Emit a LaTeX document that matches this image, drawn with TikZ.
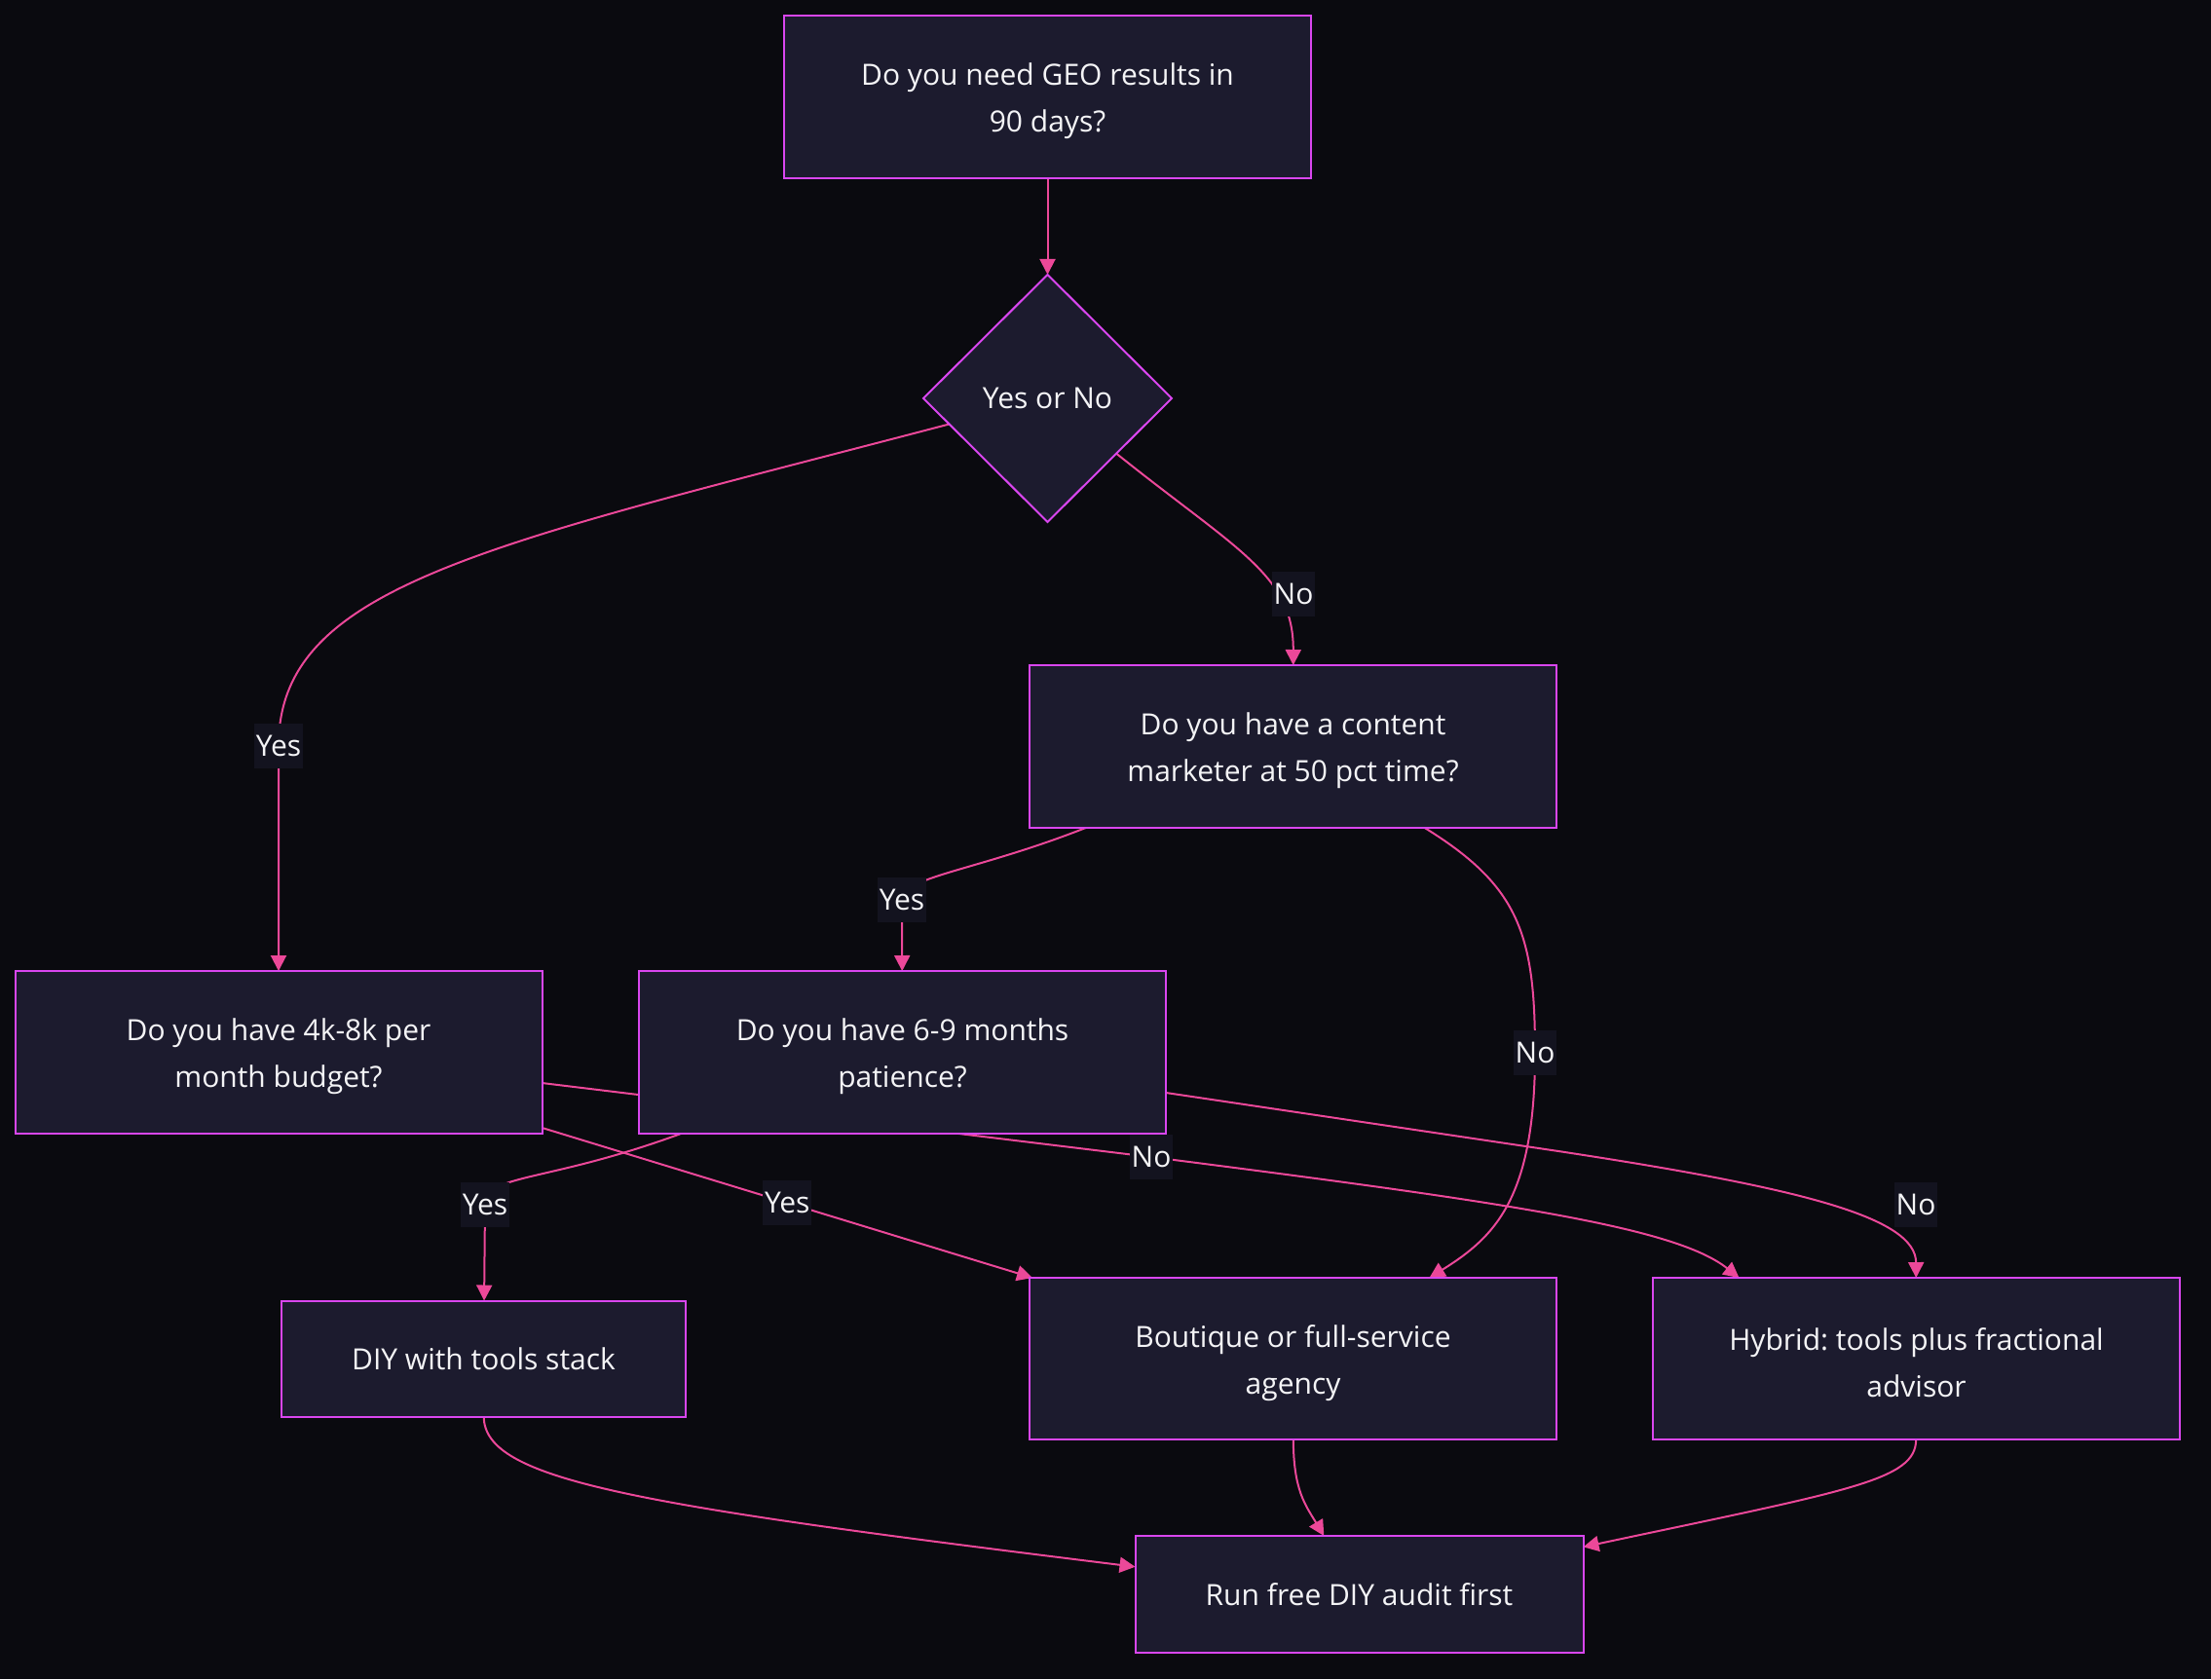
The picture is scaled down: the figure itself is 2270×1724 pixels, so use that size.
\documentclass[tikz,border=0pt]{standalone}
\usepackage{fontspec}
\setmainfont{Open Sans}
\usetikzlibrary{positioning,shapes.geometric,arrows.meta,backgrounds}

\definecolor{bgcol}{HTML}{0A0A0F}
\definecolor{boxfill}{HTML}{1C1B2E}
\definecolor{boxline}{HTML}{D946EF}
\definecolor{edgecol}{HTML}{EC4899}
\definecolor{lblfill}{HTML}{13131F}
\definecolor{txtcol}{HTML}{F4F4F6}

\frenchspacing
% taller first line, so two-line text sits a little lower in its box
\newcommand{\hstrut}{\rule{0pt}{16pt}}

\begin{document}
\begin{tikzpicture}[
  x=0.5pt, y=-0.5pt,
  every node/.style={font=\fontsize{15}{24}\selectfont, text=txtcol},
  box/.style={rectangle,draw=boxline,fill=boxfill,line width=1pt,minimum width=270.5pt,minimum height=83.5pt,align=center,inner sep=0pt,outer sep=0pt},
  choice/.style={diamond,draw=boxline,fill=boxfill,line width=1pt,minimum width=127.5pt,minimum height=127pt,inner sep=0pt,outer sep=0pt},
  flow/.style={->,draw=edgecol,line width=1pt},
  lbl/.style={fill=lblfill,inner xsep=1pt,inner ysep=0pt,minimum height=23pt},
  >={Triangle[length=8pt,width=8pt]}
]

\useasboundingbox (0,0) rectangle (2270,1724);

% START
\node[box] (Q1) at (1075.5,99) {\hstrut Do you need GEO results in\\90 days?};
\node[choice] (D) [below=49.75pt of Q1] {Yes or No};

% QUESTIONS
\node[box] (Q3) [below=73.5pt of D, xshift=126pt] {\hstrut Do you have a content\\marketer at 50 pct time?};
\node[box] (Q2) [below=230.5pt of D, xshift=-394.75pt] {\hstrut Do you have 4k-8k per\\month budget?};
\node[box] (Q4) [right=49.75pt of Q2] {\hstrut Do you have 6-9 months\\patience?};

% OPTIONS
\node[box,minimum height=83pt] (Agency) [below=231pt of Q3] {\hstrut Boutique or full-service\\agency};
\node[box,minimum height=83pt] (Hybrid) [right=49.5pt of Agency] {\hstrut Hybrid: tools plus fractional\\advisor};
\node[box,minimum width=207.5pt,minimum height=59.5pt] (DIY) [left=176.5pt of Agency] {DIY with tools stack};
\node[box,minimum width=230pt,minimum height=60pt] (Audit) [below=49.5pt of Agency, xshift=34pt] {Run free DIY audit first};

% EDGES (under the boxes)
\begin{scope}[on background layer]
\fill[bgcol] (0,0) rectangle (2270,1724);

\draw[flow] (Q1) -- (D);
\draw[flow] (D) .. controls (500,560) and (286,600) .. (286,766) node[lbl] {Yes} -- (Q2);
\draw[flow] (D) .. controls (1270,565) and (1328,590) .. (Q3) node[lbl,pos=0.7,xshift=8pt,yshift=2pt] {No};

\draw[flow] (Q3) .. controls (1000,895) and (926,900) .. (926,924) node[lbl] {Yes} -- (Q4);
\draw[flow] (Q3) .. controls (1560,910) and (1576,960) .. (1576,1081) node[lbl] {No}
  .. controls (1576,1230) and (1535,1270) .. ([xshift=70pt]Agency.north);

\draw[flow] ([yshift=3pt]Q2.south east) -- node[lbl] {Yes} ([xshift=1.5pt]Agency.north west);
\draw[flow] ([yshift=-15.75pt]Q2.east) -- (1182,1188) node[lbl] {No}
  .. controls (1550,1235) and (1720,1260) .. ([xshift=-91pt]Hybrid.north);

\draw[flow] (Q4) .. controls (560,1215) and (498,1205) .. (498,1237) node[lbl] {Yes} -- (DIY);
\draw[flow] ([yshift=-20.75pt]Q4.east) -- (1600,1182)
  .. controls (1850,1220) and (1967,1250) .. (Hybrid) node[lbl,pos=0.7,xshift=16pt,yshift=13.5pt] {No};

\draw[flow] (DIY) .. controls (497,1520) and (650,1545) .. (Audit);
\draw[flow] (Agency) .. controls (1328,1530) and (1340,1545) .. (Audit);
\draw[flow] (Hybrid) .. controls (1967,1520) and (1900,1530) .. (Audit);
\end{scope}

\end{tikzpicture}
\end{document}
